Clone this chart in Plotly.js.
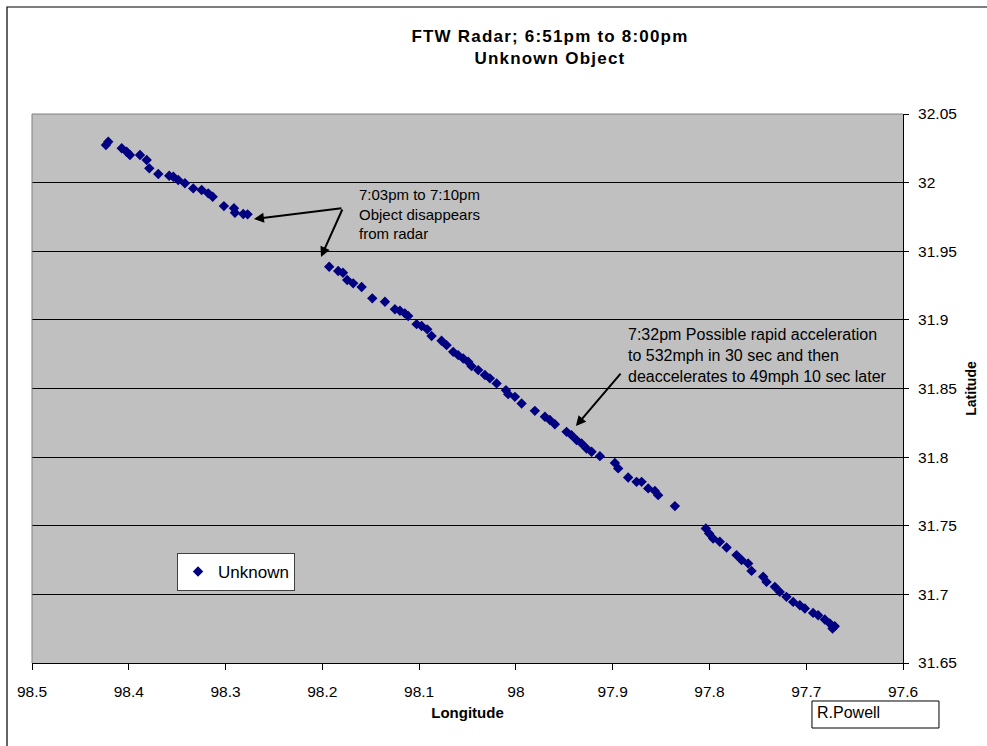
<!DOCTYPE html>
<html>
<head>
<meta charset="utf-8">
<script src="https://cdn.plot.ly/plotly-3.0.1.min.js"></script>
<style>
  html, body { margin: 0; padding: 0; background: #ffffff; }
  #chart { width: 987px; height: 746px; }
  .gtitle { letter-spacing: 1.2px; }
</style>
</head>
<body>
<div id="chart"></div>
<script>
// Longitude (degrees W) and latitude of radar returns
const lon = [
  98.4236, 98.4212, 98.4073, 98.4022, 98.3988, 98.3884, 98.3815, 98.3788, 98.3695, 98.3582,
  98.3540, 98.3489, 98.3420, 98.3334, 98.3247, 98.3179, 98.3133, 98.3017, 98.2913, 98.2903,
  98.2817, 98.2772,
  98.1929, 98.1836, 98.1787, 98.1743, 98.1681, 98.1594, 98.1484, 98.1353, 98.1250, 98.1198,
  98.1147, 98.1113, 98.1026, 98.0974, 98.0916, 98.0871, 98.0768, 98.0716, 98.0648, 98.0596,
  98.0544, 98.0493, 98.0458, 98.0389, 98.0320, 98.0269, 98.0199, 98.0103, 98.0080, 98.0010,
  97.9941, 97.9804, 97.9700, 97.9649, 97.9597, 97.9476, 97.9425, 97.9373, 97.9321, 97.9270,
  97.9218, 97.9132, 97.8977, 97.8943, 97.8840, 97.8753, 97.8701, 97.8633, 97.8564, 97.8530,
  97.8357,
  97.8037, 97.8003, 97.7962, 97.7893, 97.7823, 97.7720, 97.7668, 97.7600, 97.7565, 97.7445,
  97.7410, 97.7324, 97.7273, 97.7204, 97.7135, 97.7066, 97.7014, 97.6929, 97.6877, 97.6808,
  97.6756, 97.6728, 97.6705
];
const lat = [
  32.0274, 32.0298, 32.0250, 32.0225, 32.0201, 32.0201, 32.0165, 32.0104, 32.0063, 32.0050,
  32.0043, 32.0019, 31.9995, 31.9958, 31.9946, 31.9922, 31.9897, 31.9829, 31.9813, 31.9781,
  31.9771, 31.9769,
  31.9387, 31.9356, 31.9343, 31.9290, 31.9266, 31.9239, 31.9157, 31.9132, 31.9077, 31.9066,
  31.9047, 31.9028, 31.8969, 31.8955, 31.8931, 31.8882, 31.8848, 31.8816, 31.8767, 31.8743,
  31.8719, 31.8695, 31.8663, 31.8634, 31.8598, 31.8574, 31.8537, 31.8488, 31.8459, 31.8439,
  31.8391, 31.8337, 31.8294, 31.8270, 31.8240, 31.8184, 31.8160, 31.8124, 31.8100, 31.8063,
  31.8039, 31.8007, 31.7958, 31.7918, 31.7852, 31.7820, 31.7820, 31.7772, 31.7754, 31.7723,
  31.7643,
  31.7480, 31.7444, 31.7407, 31.7383, 31.7342, 31.7286, 31.7250, 31.7225, 31.7171, 31.7128,
  31.7091, 31.7055, 31.7018, 31.6982, 31.6945, 31.6921, 31.6897, 31.6865, 31.6848, 31.6817,
  31.6788, 31.6751, 31.6768
];

const seriesName = 'Unknown';
const xTickVals = [98.5, 98.4, 98.3, 98.2, 98.1, 98.0, 97.9, 97.8, 97.7, 97.6];
const xTickText = ['98.5', '98.4', '98.3', '98.2', '98.1', '98', '97.9', '97.8', '97.7', '97.6'];
const yTickVals = [31.65, 31.7, 31.75, 31.8, 31.85, 31.9, 31.95, 32.0, 32.05];
const yTickText = ['31.65', '31.7', '31.75', '31.8', '31.85', '31.9', '31.95', '32', '32.05'];

const FONT = 'Arial, "Liberation Sans", sans-serif';

const trace = {
  type: 'scatter',
  mode: 'markers',
  name: seriesName,
  x: lon,
  y: lat,
  marker: { symbol: 'diamond', size: 8, color: '#000080', line: { width: 0 } },
  hoverinfo: 'x+y'
};

const layout = {
  width: 987,
  height: 746,
  margin: { l: 32, r: 84, t: 114, b: 83 },
  paper_bgcolor: '#ffffff',
  plot_bgcolor: '#c0c0c0',
  font: { family: FONT, color: '#000000' },
  title: {
    text: '<b>FTW Radar; 6:51pm to 8:00pm<br>Unknown Object</b>',
    font: { family: FONT, size: 17, color: '#000000' },
    xref: 'container', x: 0.5572, xanchor: 'center',
    yref: 'container', y: 0.9435, yanchor: 'top'
  },
  showlegend: true,
  legend: {
    x: 0.1665, xanchor: 'left',
    y: 0.2004, yanchor: 'top',
    bgcolor: '#ffffff',
    bordercolor: '#404040',
    borderwidth: 1,
    itemwidth: 30,
    font: { family: FONT, size: 17, color: '#000000' }
  },
  xaxis: {
    range: [98.5, 97.6],
    tickmode: 'array',
    tickvals: xTickVals,
    ticktext: xTickText,
    ticks: 'outside', ticklen: 6, tickwidth: 1, tickcolor: '#000000',
    ticklabelstandoff: 8,
    showline: true, linecolor: '#000000', linewidth: 1,
    showgrid: false, zeroline: false,
    tickfont: { family: FONT, size: 15.5, color: '#000000' },
    title: { text: '<b>Longitude</b>', font: { family: FONT, size: 15, color: '#000000' }, standoff: 8 }
  },
  yaxis: {
    side: 'right',
    range: [31.65, 32.05],
    tickmode: 'array',
    tickvals: yTickVals,
    ticktext: yTickText,
    ticks: 'outside', ticklen: 5, tickwidth: 1, tickcolor: '#000000',
    ticklabelstandoff: 6,
    showline: true, linecolor: '#000000', linewidth: 1,
    showgrid: true, gridcolor: '#000000', gridwidth: 1,
    zeroline: false,
    tickfont: { family: FONT, size: 15.5, color: '#000000' },
    title: { text: '<b>Latitude</b>', font: { family: FONT, size: 14, color: '#000000' }, standoff: 10 }
  },
  shapes: [
    // plot area top and left border (grey)
    { type: 'line', xref: 'paper', yref: 'paper', x0: 0, x1: 1, y0: 1, y1: 1, line: { color: '#808080', width: 1 } },
    { type: 'line', xref: 'paper', yref: 'paper', x0: 0, x1: 0, y0: 0, y1: 1, line: { color: '#808080', width: 1 } },
    // outer chart border
    { type: 'rect', xref: 'paper', yref: 'paper', x0: -0.0287, x1: 1.102, y0: -0.158, y1: 1.1949,
      line: { color: '#000000', width: 1.2 }, fillcolor: 'rgba(0,0,0,0)' },
    // author box
    { type: 'rect', xref: 'paper', yref: 'paper', x0: 0.8955, x1: 1.0413, y0: -0.1184, y1: -0.0692,
      line: { color: '#000000', width: 1 }, fillcolor: '#ffffff' }
  ],
  annotations: [
    { xref: 'paper', yref: 'paper', x: 0.3731, y: 0.8179, xanchor: 'left', yanchor: 'middle', align: 'left',
      showarrow: false, text: '7:03pm to 7:10pm<br>Object disappears<br>from radar',
      font: { family: FONT, size: 15, color: '#000000' } },
    { xref: 'x', yref: 'y', x: 98.2707, y: 31.9735, text: '', showarrow: true,
      axref: 'pixel', ayref: 'pixel', ax: 89, ay: -11,
      arrowhead: 2, arrowsize: 1, arrowwidth: 2, arrowcolor: '#000000', standoff: 0 },
    { xref: 'x', yref: 'y', x: 98.2014, y: 31.9458, text: '', showarrow: true,
      axref: 'pixel', ayref: 'pixel', ax: 22, ay: -49,
      arrowhead: 2, arrowsize: 1, arrowwidth: 2, arrowcolor: '#000000', standoff: 0 },
    { xref: 'paper', yref: 'paper', x: 0.682, y: 0.5592, xanchor: 'left', yanchor: 'middle', align: 'left',
      showarrow: false, text: '7:32pm Possible rapid acceleration<br>to 532mph in 30 sec and then<br>deaccelerates to 49mph 10 sec later',
      font: { family: FONT, size: 16, color: '#000000' } },
    { xref: 'x', yref: 'y', x: 97.938, y: 31.8226, text: '', showarrow: true,
      axref: 'pixel', ayref: 'pixel', ax: 46, ay: -54,
      arrowhead: 2, arrowsize: 1, arrowwidth: 2, arrowcolor: '#000000', standoff: 0 },
    { xref: 'paper', yref: 'paper', x: 0.899, y: -0.091, xanchor: 'left', yanchor: 'middle', align: 'left',
      showarrow: false, text: 'R.Powell',
      font: { family: FONT, size: 16, color: '#000000' } }
  ]
};

Plotly.newPlot('chart', [trace], layout, { displayModeBar: false, staticPlot: true });
</script>
</body>
</html>
